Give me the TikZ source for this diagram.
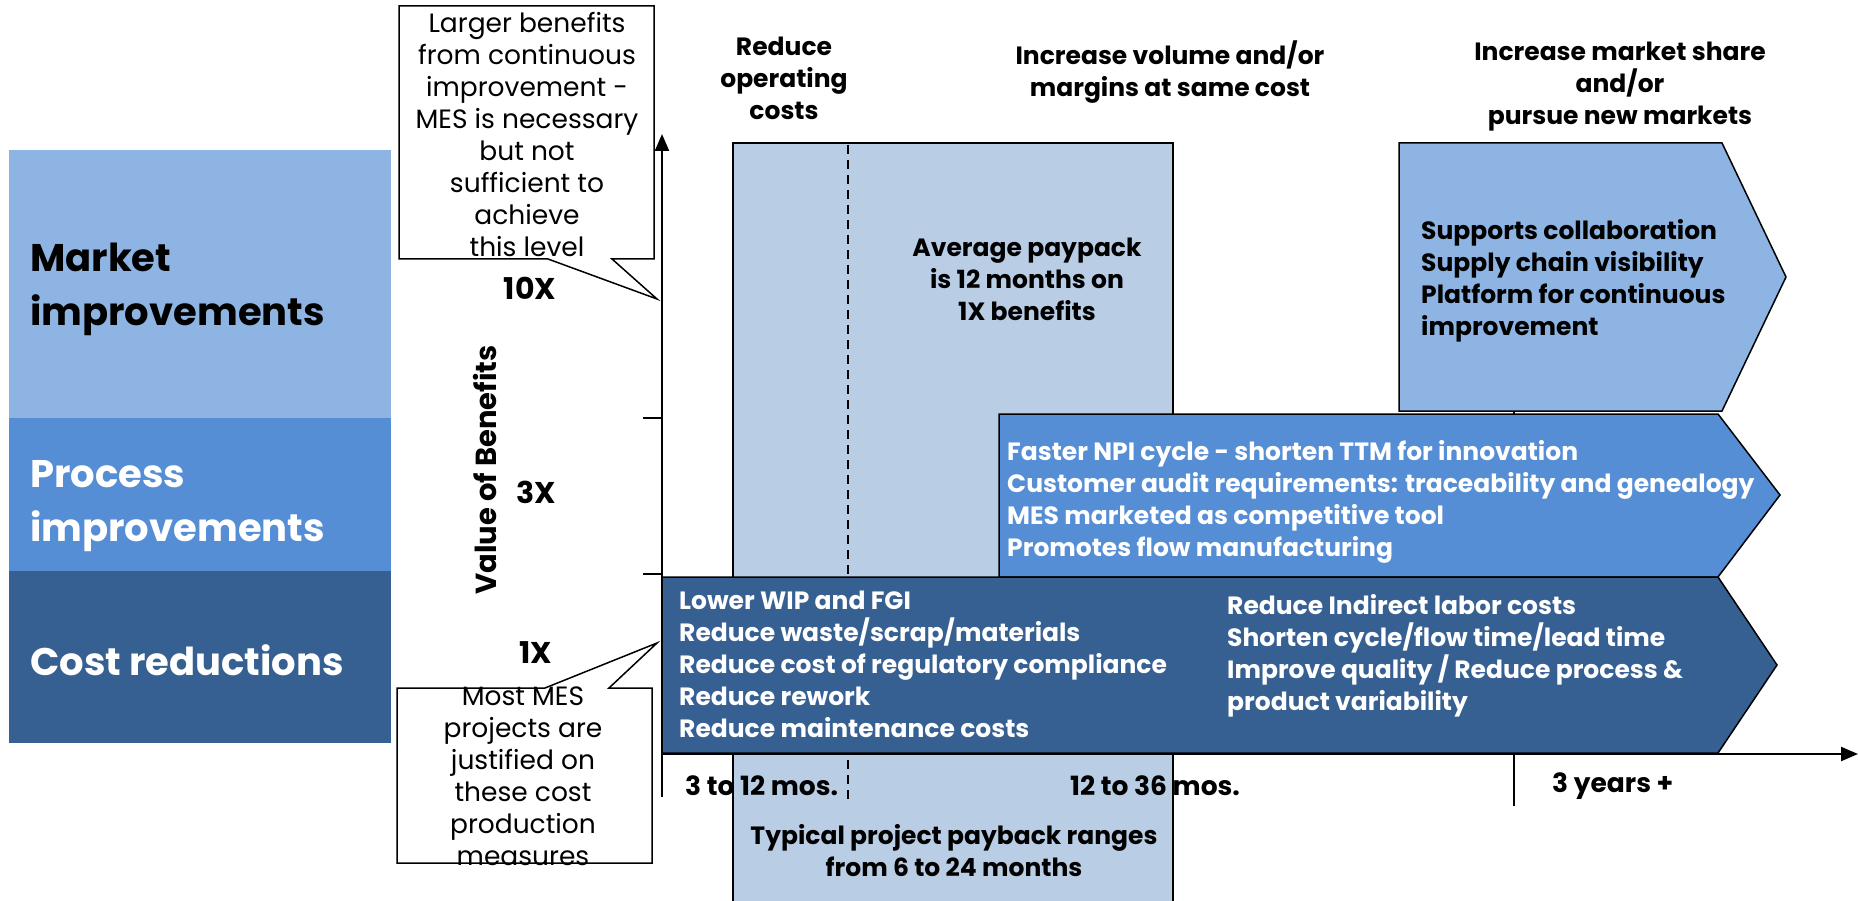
\documentclass[tikz,border=0pt]{standalone}
\usepackage{fontspec}
\setmainfont{Poppins}
\usepackage{tikz}
\usetikzlibrary{positioning}
\usetikzlibrary{arrows.meta}

\definecolor{mktblue}{RGB}{141,180,226}
\definecolor{prcblue}{RGB}{85,142,213}
\definecolor{cstblue}{RGB}{55,96,146}
\definecolor{payblue}{RGB}{185,205,229}

\begin{document}
\begin{tikzpicture}[
	x=1pt, y=-1pt,
	font=\fontsize{25}{32}\selectfont\bfseries,
	cat/.style={anchor=north west, align=left, inner sep=0pt, font=\fontsize{38.5}{54}\selectfont\bfseries},
	txt/.style={anchor=north west, align=left, inner sep=0pt},
	head/.style={anchor=north, align=center, inner sep=0pt},
	period/.style={anchor=west, inner sep=0pt, font=\fontsize{26.5}{32}\selectfont\bfseries},
	lvl/.style={inner sep=0pt, font=\fontsize{30}{32}\selectfont\bfseries},
	note/.style={anchor=north, align=center, inner sep=0pt, font=\fontsize{26.5}{32}\selectfont},
	barshape/.style={draw=black, line width=1.5pt},
	callout/.style={draw=black, fill=white, line width=1.5pt},
	axisline/.style={line width=2.2pt, -{Triangle[length=17pt, width=14pt]}},
	tickline/.style={line width=1.8pt}
	]
	
	\useasboundingbox (0,0) rectangle (1858,901);
	
	% -------------------------------
	% CATEGORIES
	% -------------------------------
	\fill[mktblue] (9,150) rectangle (391,418);
	\fill[prcblue] (9,418) rectangle (391,571);
	\fill[cstblue] (9,571) rectangle (391,743);
	\node[cat] (mktlab) at (30,243) {Market\\improvements};
	\node[cat, text=white] (prclab) at (30,460) {Process\\improvements};
	\node[cat, text=white] (cstlab) at (30,644) {Cost reductions};
	
	% -------------------------------
	% PAYBACK BAND
	% -------------------------------
	\draw[fill=payblue, line width=1.5pt] (733,920) -- (733,143) -- (1173,143) -- (1173,920);
	\draw[dashed, line width=1.8pt, dash pattern=on 9pt off 6pt] (848,145) -- (848,800);
	
	% -------------------------------
	% TICKS
	% -------------------------------
	\coordinate (t10) at (643,418);
	\coordinate (t3) at (643,574);
	\draw[tickline] (t10) -- ++(19,0);
	\draw[tickline] (t3) -- ++(19,0);
	\draw[tickline] (1514,411) -- (1514,806);
	
	% -------------------------------
	% BARS
	% -------------------------------
	\draw[barshape, fill=mktblue] (1399,143) -- (1722,143) -- (1786,277) -- (1722,411) -- (1399,411) -- cycle;
	\draw[barshape, fill=prcblue] (999,414) -- (1718,414) -- (1780,495) -- (1718,577) -- (999,577) -- cycle;
	\draw[barshape, fill=cstblue] (662,577) -- (1718,577) -- (1777,665) -- (1718,753) -- (662,753) -- cycle;
	
	% -------------------------------
	% AXES
	% -------------------------------
	\coordinate (ybot) at (662,797);
	\coordinate (ytop) at (662,134);
	\coordinate (xorig) at (662,754);
	\coordinate (xend) at (1858,754);
	\draw[axisline] (ybot) -- (ytop);
	\draw[axisline] (xorig) -- (xend);
	
	\node[rotate=90, font=\fontsize{29}{32}\selectfont\bfseries] (yname) at (485,470) {Value of Benefits};
	\node[lvl] (l10) at (530,288) {10X};
	\node[lvl] (l3) at (536,492) {3X};
	\node[lvl] (l1) at (536,653) {1X};
	
	% -------------------------------
	% CALLOUTS
	% -------------------------------
	\draw[callout] (399,6) -- (654,6) -- (654,259) -- (612,259) -- (657,299) -- (548,259) -- (399,259) -- cycle;
	\node[note] (upnote) at (527,12) {Larger benefits\\from continuous\\improvement -\\MES is necessary\\but not\\sufficient to\\achieve\\this level};
	
	\draw[callout] (397,688) -- (545,688) -- (657,643) -- (609,688) -- (652,688) -- (652,863) -- (397,863) -- cycle;
	\node[note] (lownote) at (523,687) {Most MES\\projects are\\justified on\\these cost\\production\\measures};
	
	% -------------------------------
	% HEADERS
	% -------------------------------
	\node[head] (hcost) at (784,37) {Reduce\\operating\\costs};
	\node[head] (hvol) at (1170,41) {Increase volume and/or\\margins at same cost};
	\node[head] (hmkt) at (1620,42) {Increase market share\\and/or\\pursue new markets};
	
	% -------------------------------
	% BAR TEXTS
	% -------------------------------
	\node[head] (avg) at (1027,238) {Average paypack\\is 12 months on\\1X benefits};
	\node[txt] (mkttxt) at (1421,219) {Supports collaboration\\Supply chain visibility\\Platform for continuous\\improvement};
	\node[txt, text=white] (prctxt) at (1007,440) {Faster NPI cycle - shorten TTM for innovation\\Customer audit requirements: traceability and genealogy\\MES marketed as competitive tool\\Promotes flow manufacturing};
	\node[txt, text=white] (csttxt) at (679,591) {Lower WIP and FGI\\Reduce waste/scrap/materials\\Reduce cost of regulatory compliance\\Reduce rework\\Reduce maintenance costs};
	\node[txt, text=white] (csttxt2) at (1227,594) {Reduce Indirect labor costs\\Shorten cycle/flow time/lead time\\Improve quality / Reduce process \&\\product variability};
	
	% -------------------------------
	% TIME RANGES
	% -------------------------------
	\node[period] (r1) at (685,786) {3 to 12 mos.};
	\node[period] (r2) at (1070,786) {12 to 36 mos.};
	\node[period] (r3) at (1552,786) {3 years +};
	\node[head] (typ) at (954,824) {Typical project payback ranges\\from 6 to 24 months};
	
\end{tikzpicture}
\end{document}
